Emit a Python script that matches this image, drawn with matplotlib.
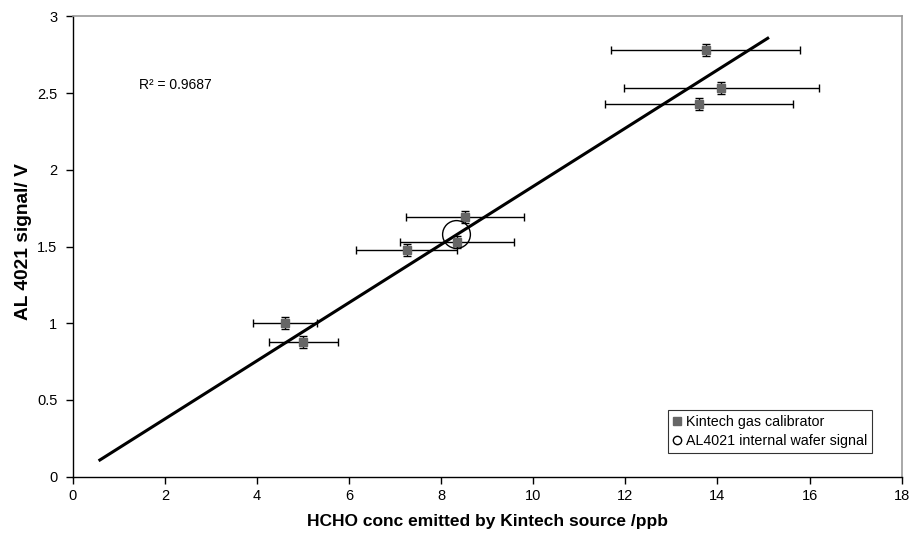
import numpy as np
import matplotlib.pyplot as plt
from matplotlib.lines import Line2D

plt.rcParams['font.family'] = ['Liberation Sans', 'DejaVu Sans']

# Kintech gas calibrator points
hcho_ppb = [13.74, 14.08, 13.59, 8.51, 8.34, 7.25, 4.61, 5.01]
signal_v = [2.78, 2.536, 2.428, 1.691, 1.528, 1.478, 1.00, 0.878]
hcho_err = [2.06, 2.12, 2.04, 1.28, 1.24, 1.09, 0.70, 0.745]
signal_err = [0.04, 0.04, 0.04, 0.04, 0.04, 0.04, 0.04, 0.04]

# AL4021 internal wafer signal
wafer_x = [8.32]
wafer_y = [1.58]

# linear trend line
fit_slope = 0.1896
fit_intercept = -0.003
fit_range = [0.59, 15.09]
r2_text = "R² = 0.9687"

fig = plt.figure(figsize=(9.1, 5.37), dpi=100)
ax = fig.add_axes([0.0799, 0.1123, 0.911, 0.857])

fit_x = np.array(fit_range)
ax.plot(fit_x, fit_slope * fit_x + fit_intercept, color='black', lw=2.2, zorder=2)

ax.errorbar(hcho_ppb, signal_v, xerr=hcho_err, yerr=signal_err, fmt='none',
            ecolor='black', elinewidth=1.0, capsize=3, capthick=1.0, zorder=3)
ax.plot(hcho_ppb, signal_v, 's', color='#666666', markersize=6, zorder=4)
ax.plot(wafer_x, wafer_y, 'o', markerfacecolor='none', markeredgecolor='black',
        markersize=20, markeredgewidth=1.0, zorder=5)

ax.text(1.44, 2.553, r2_text, fontsize=10, va='center', ha='left')

ax.set_xlim(0, 18)
ax.set_ylim(0, 3)
ax.set_xticks(np.arange(0, 19, 2))
ax.set_yticks([0, 0.5, 1, 1.5, 2, 2.5, 3])
ax.set_yticklabels(['0', '0.5', '1', '1.5', '2', '2.5', '3'])
ax.tick_params(direction='out', length=5, width=1, labelsize=10.5)
ax.tick_params(axis='x', pad=4)
ax.tick_params(axis='y', pad=6)

for s in ['top', 'right']:
    ax.spines[s].set_color('#999999')
    ax.spines[s].set_linewidth(1.2)
for s in ['left', 'bottom']:
    ax.spines[s].set_color('black')
    ax.spines[s].set_linewidth(1.0)

ax.set_xlabel("HCHO conc emitted by Kintech source /ppb", fontsize=12.5,
              fontweight='bold')
ax.xaxis.set_label_coords(0.5, -0.082)
ax.set_ylabel("AL 4021 signal/ V", fontsize=13.8, fontweight='bold')
ax.yaxis.set_label_coords(-0.049, 0.51)

handles = [
    Line2D([], [], marker='s', color='#666666', linestyle='none', markersize=6),
    Line2D([], [], marker='o', markerfacecolor='none', markeredgecolor='black',
           linestyle='none', markersize=6),
]
leg = ax.legend(handles, ["Kintech gas calibrator", "AL4021 internal wafer signal"],
                loc='lower right', bbox_to_anchor=(0.964, 0.052), fontsize=10.3,
                frameon=True, fancybox=False, handlelength=0.6, handletextpad=0.3,
                borderpad=0.35, labelspacing=0.35, borderaxespad=0)
leg.get_frame().set_edgecolor('black')
leg.get_frame().set_linewidth(0.8)

fig.savefig('out.png', dpi=100)
